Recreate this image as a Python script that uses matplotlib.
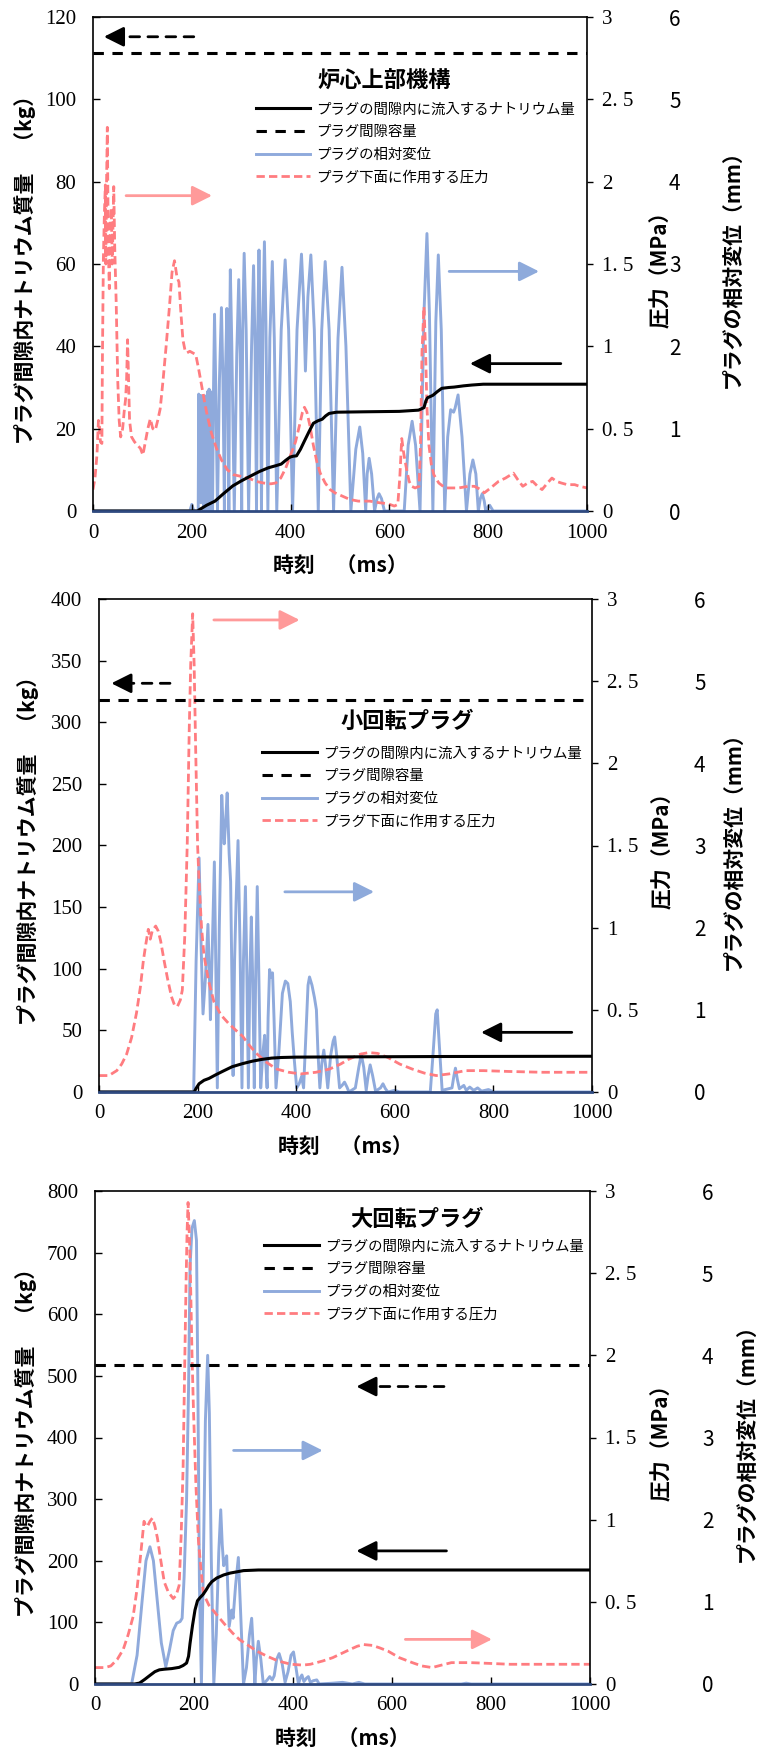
import numpy as np
import matplotlib
matplotlib.use('Agg')
import matplotlib.pyplot as plt

plt.rcParams['font.family'] = ['Noto Sans CJK JP', 'DejaVu Sans']

# ---------------- data ----------------
panel_titles = ['炉心上部機構', '小回転プラグ', '大回転プラグ']
legend_labels = ['プラグの間隙内に流入するナトリウム量', 'プラグ間隙容量',
                 'プラグの相対変位', 'プラグ下面に作用する圧力']
x_ticks = [0, 200, 400, 600, 800, 1000]
kg_max = [120, 400, 800]
kg_step = [20, 50, 100]
pres_ticks = [0, 0.5, 1, 1.5, 2, 2.5, 3]
pres_ticklabels = ['0', '0. 5', '1', '1. 5', '2', '2. 5', '3']
disp_ticks = [0, 1, 2, 3, 4, 5, 6]
capacity = [111.3, 318, 518]

# (time ms, kg)
mass1 = np.array([(0, 0), (212, 0), (215, 0.3), (230, 1.4), (247, 2.4), (265, 4.3), (283, 6.1),
                  (300, 7.3), (319, 8.5), (337, 9.6), (355, 10.5), (370, 11.0), (381, 11.4),
                  (390, 12.3), (399, 13.1), (405, 13.3), (412, 13.4), (420, 15), (428, 17),
                  (437, 19.2), (446, 21.3), (455, 21.9), (464, 22.3), (471, 23.1), (478, 23.7),
                  (493, 24.0), (550, 24.1), (620, 24.2), (659, 24.5), (670, 25.1), (674, 26.8),
                  (677, 27.5), (688, 28.1), (697, 29.0), (706, 29.8), (720, 30.0), (731, 30.1),
                  (750, 30.4), (767, 30.6), (790, 30.8), (1000, 30.8)])
mass2 = np.array([(0, 0), (193, 0), (197, 3), (203, 6.7), (213, 9.5), (223, 11), (237, 14),
                  (252, 17), (270, 20.5), (291, 23), (311, 25), (331, 26.5), (350, 27.5),
                  (370, 28), (400, 28.3), (500, 28.5), (700, 28.8), (1000, 29)])
mass3 = np.array([(0, 0), (80, 0), (90, 1.5), (101, 7.8), (111, 14), (121, 20), (130, 23),
                  (140, 24), (155, 25), (170, 27), (178, 30), (185, 34), (189, 45), (192, 66),
                  (197, 95), (202, 120), (207, 135), (212, 140), (218, 145), (224, 152),
                  (230, 160), (236, 166), (246, 172), (260, 177), (273, 180), (300, 184),
                  (330, 185), (1000, 185)])

# (time ms, MPa)
pres1 = np.array([(0, 0.13), (4, 0.2), (8, 0.34), (11, 0.55), (13, 0.52), (15, 0.42), (18, 0.41),
                  (19, 0.9), (21, 1.53), (23, 1.8), (25, 1.98), (26, 1.5), (27, 1.9), (29, 2.33),
                  (31, 1.6), (33, 1.35), (35, 1.7), (37, 1.84), (39, 1.5), (42, 1.97), (44, 1.6),
                  (47, 1.26), (50, 0.8), (53, 0.55), (56, 0.45), (60, 0.5), (63, 0.6), (66, 0.68),
                  (68, 0.8), (70, 1.04), (72, 0.8), (74, 0.55), (78, 0.45), (84, 0.42), (90, 0.4),
                  (96, 0.38), (101, 0.34), (106, 0.42), (111, 0.5), (116, 0.56), (121, 0.5),
                  (126, 0.49), (131, 0.55), (136, 0.62), (142, 0.8), (148, 1.0), (155, 1.25),
                  (160, 1.45), (165, 1.52), (170, 1.42), (174, 1.39), (178, 1.2), (182, 1.04),
                  (186, 0.98), (190, 0.96), (196, 0.97), (202, 0.96), (208, 0.95), (214, 0.86),
                  (220, 0.76), (226, 0.66), (232, 0.57), (240, 0.47), (250, 0.38), (260, 0.31),
                  (272, 0.25), (285, 0.22), (300, 0.21), (315, 0.2), (330, 0.18), (345, 0.17),
                  (360, 0.165), (370, 0.17), (380, 0.2), (390, 0.26), (400, 0.34), (410, 0.42),
                  (418, 0.52), (424, 0.6), (428, 0.63), (433, 0.6), (439, 0.52), (446, 0.4),
                  (453, 0.3), (460, 0.23), (470, 0.17), (480, 0.13), (490, 0.11), (505, 0.09),
                  (520, 0.07), (537, 0.06), (560, 0.06), (580, 0.05), (596, 0.045), (610, 0.03),
                  (617, 0.04), (621, 0.2), (625, 0.44), (629, 0.35), (635, 0.25), (640, 0.18),
                  (645, 0.15), (652, 0.14), (660, 0.15), (663, 0.4), (666, 0.97), (670, 1.24),
                  (673, 1.0), (676, 0.63), (680, 0.4), (685, 0.28), (690, 0.22), (700, 0.17),
                  (713, 0.14), (740, 0.14), (760, 0.15), (772, 0.15), (785, 0.13), (792, 0.11),
                  (805, 0.14), (821, 0.18), (835, 0.2), (851, 0.23), (860, 0.19), (870, 0.15),
                  (880, 0.17), (890, 0.18), (900, 0.15), (909, 0.13), (920, 0.17), (929, 0.2),
                  (938, 0.18), (948, 0.17), (960, 0.16), (975, 0.16), (985, 0.15), (1000, 0.14)])
pres2 = np.array([(0, 0.10), (20, 0.10), (36, 0.13), (46, 0.17), (56, 0.23), (66, 0.33),
                  (76, 0.48), (84, 0.64), (90, 0.80), (95, 0.9), (100, 0.99), (104, 0.93),
                  (108, 0.98), (115, 1.01), (120, 0.98), (125, 0.92), (132, 0.8), (139, 0.69),
                  (147, 0.58), (153, 0.53), (159, 0.52), (165, 0.56), (169, 0.62), (174, 0.95),
                  (179, 1.51), (183, 2.2), (186, 2.6), (190, 2.91), (193, 2.6), (196, 2.1),
                  (200, 1.5), (203, 1.28), (208, 1.0), (213, 0.83), (222, 0.68), (233, 0.55),
                  (247, 0.47), (262, 0.42), (276, 0.38), (291, 0.34), (306, 0.28), (321, 0.23),
                  (340, 0.18), (360, 0.14), (385, 0.12), (409, 0.11), (440, 0.12), (468, 0.14),
                  (490, 0.17), (507, 0.20), (530, 0.23), (547, 0.24), (565, 0.235), (586, 0.21),
                  (610, 0.17), (635, 0.14), (660, 0.115), (684, 0.10), (710, 0.11), (743, 0.13),
                  (780, 0.13), (831, 0.125), (900, 0.12), (1000, 0.12)])
pres3 = np.array([(0, 0.10), (20, 0.10), (32, 0.11), (45, 0.15), (57, 0.21), (67, 0.3), (77, 0.41),
                  (85, 0.58), (91, 0.75), (96, 0.9), (99, 0.99), (103, 0.96), (106, 0.96),
                  (111, 0.99), (116, 1.01), (121, 0.96), (126, 0.89), (133, 0.75), (140, 0.62),
                  (148, 0.56), (158, 0.52), (164, 0.54), (170, 0.60), (174, 0.9), (178, 1.32),
                  (181, 1.9), (184, 2.45), (186, 2.75), (188, 2.93), (191, 2.7), (193, 2.45),
                  (196, 2.0), (199, 1.66), (204, 1.2), (209, 0.87), (214, 0.7), (219, 0.55),
                  (230, 0.48), (249, 0.41), (263, 0.36), (278, 0.31), (292, 0.27), (307, 0.24),
                  (327, 0.2), (347, 0.17), (370, 0.14), (396, 0.12), (420, 0.115), (435, 0.12),
                  (460, 0.14), (480, 0.16), (494, 0.18), (515, 0.21), (530, 0.23), (543, 0.24),
                  (560, 0.235), (575, 0.22), (592, 0.20), (615, 0.16), (641, 0.13), (660, 0.11),
                  (681, 0.10), (700, 0.115), (720, 0.13), (759, 0.13), (800, 0.125), (838, 0.12),
                  (900, 0.12), (1000, 0.12)])

# (time ms, mm)
disp1 = np.array([(0, 0), (196, 0), (200, 0.08), (204, 0), (213, 0),
                  (214, 1.42), (215.5, 0.3), (217, 1.40), (218.5, 0.1), (220, 1.40), (221.5, 0.2),
                  (223, 1.38), (224.5, 0.0), (226, 1.40), (227.5, 0.3), (229, 1.35), (230.5, 0.0),
                  (232, 1.45), (233.5, 0.2), (235, 1.48), (236.5, 0.0), (238, 1.45), (240, 0.5),
                  (242, 0),
                  (244, 1.5), (246, 2.39), (248.5, 1.5), (252, 0),
                  (256, 1.6), (260, 2.47), (263, 1.6), (266, 0),
                  (268, 1.6), (271, 2.46), (273, 1.5), (275, 0),
                  (276.5, 2.0), (278, 2.93), (281, 2.0), (286, 0),
                  (291, 1.9), (295, 2.81), (298, 1.9), (301, 0),
                  (303, 2.2), (306, 3.13), (310, 2.2), (315, 0),
                  (321, 2.0), (325, 2.98), (328, 2.0), (331, 0),
                  (333.5, 2.2), (336, 3.17), (338.5, 2.2), (341, 0),
                  (344, 2.3), (347, 3.27), (350, 2.3), (354, 0),
                  (358, 2.1), (363, 3.03), (367, 2.1), (372, 0),
                  (381, 2.2), (389, 3.05), (396, 2.2), (404, 0),
                  (413, 2.2), (422, 3.12), (426, 2.6), (430, 1.70), (435, 2.6), (441, 3.11),
                  (448, 2.2), (456, 0),
                  (463, 2.2), (470, 3.03), (478, 2.2), (487, 0),
                  (496, 2.1), (504, 2.96), (512, 2.0), (522, 0),
                  (532, 0.75), (540, 1.02), (546, 0.7), (552, 0),
                  (555, 0.45), (559, 0.64), (564, 0.45), (570, 0),
                  (575, 0.15), (579, 0.21), (584, 0.15), (590, 0), (630, 0),
                  (638, 0.8), (646, 1.09), (653, 0.8), (662, 0),
                  (670, 2.4), (676, 3.37), (681, 2.4), (688, 0),
                  (694, 2.3), (699, 3.11), (705, 2.2), (712, 0),
                  (718, 0.9), (724, 1.23), (730, 1.2), (733, 1.25), (739, 1.41), (747, 0.9), (756, 0),
                  (763, 0.45), (769, 0.62), (775, 0.45), (780, 0),
                  (784, 0.15), (788, 0.21), (792, 0.12), (795, 0),
                  (800, 0.05), (803, 0.07), (806, 0.04), (810, 0), (1000, 0)])
disp2 = np.array([(0, 0), (192, 0), (197, 1.6), (203, 2.85), (207, 1.8), (211, 0.95), (216, 1.4),
                  (221, 2.04), (224, 1.4), (226, 0.88), (230, 1.8), (234, 2.80), (237, 1.5),
                  (240, 0.05), (244, 2.0), (249, 3.61), (252, 3.2), (254, 3.02), (257, 3.3),
                  (260, 3.64), (264, 2.9), (267, 2.56), (270, 1.2), (272, 0.2),
                  (275, 1.6), (278, 2.3), (282, 3.06), (286, 1.8), (290, 0.05),
                  (293, 1.6), (297, 2.50), (300, 1.4), (303, 0.05),
                  (306, 1.4), (309, 2.13), (312, 1.3), (315, 0.05),
                  (318, 1.5), (321, 2.50), (324, 1.5), (328, 0.05),
                  (332, 0.45), (336, 0.69), (338, 0.4), (341, 0.05),
                  (343, 0.9), (346, 1.49), (349, 1.40), (352, 1.45), (355, 0.9), (359, 0.05),
                  (365, 0.5), (372, 1.2), (378, 1.35), (383, 1.32), (388, 1.1), (392, 0.72),
                  (396, 0.4), (401, 0.05), (406, 0.1), (411, 0.19), (415, 0.05),
                  (419, 0.6), (424, 1.3), (427, 1.40), (432, 1.3), (437, 1.15), (441, 1.0),
                  (444, 0.5), (448, 0.05), (452, 0.35), (456, 0.51), (460, 0.3), (464, 0.05),
                  (470, 0.45), (475, 0.62), (478, 0.67), (482, 0.45), (488, 0.05),
                  (493, 0.08), (498, 0.12), (503, 0.06), (507, 0.0),
                  (520, 0.05), (527, 0.3), (532, 0.46), (537, 0.3), (542, 0.02),
                  (546, 0.2), (550, 0.33), (555, 0.2), (561, 0.01),
                  (571, 0.05), (576, 0.10), (581, 0.04), (586, 0.0), (600, 0.02), (610, 0.0),
                  (672, 0), (678, 0.5), (683, 0.95), (686, 1.0), (690, 0.6), (696, 0.02),
                  (716, 0.05), (720, 0.2), (723, 0.29), (727, 0.15), (731, 0.04), (740, 0.08),
                  (745, 0.02), (752, 0.06), (760, 0.02), (768, 0.05), (776, 0.01), (790, 0.03),
                  (800, 0.0), (1000, 0)])
disp3 = np.array([(0, 0), (74, 0), (85, 0.35), (95, 1.0), (103, 1.5), (111, 1.67), (118, 1.5),
                  (126, 1.0), (134, 0.5), (143, 0.21), (150, 0.4), (158, 0.65), (165, 0.74),
                  (172, 0.76), (176, 0.8), (180, 1.3), (185, 2.24), (189, 3.6), (192, 5.08),
                  (196, 5.55), (200.7, 5.64), (205, 5.4), (208, 3.5), (211, 1.2), (215, 0.0),
                  (219, 1.5), (223, 3.2), (227.6, 4.0), (231, 3.3), (235, 1.5), (240, 0.0),
                  (245, 0.6), (250, 1.6), (254, 2.12), (257, 1.7), (260, 1.44), (263, 1.5),
                  (266, 1.56), (268, 1.2), (271, 0.7), (276, 0.90), (279, 0.80), (284, 1.2),
                  (289.6, 1.54), (294, 0.9), (300, 0.0),
                  (306, 0.2), (312, 0.6), (316.5, 0.80), (320, 0.4), (323, 0.0),
                  (326, 0.3), (330, 0.52), (335, 0.3), (340, 0.0),
                  (348, 0.05), (353, 0.09), (358, 0.05), (362, 0.1), (367, 0.3), (372, 0.37),
                  (378, 0.25), (384, 0.02), (390, 0.15), (396, 0.35), (401, 0.39), (406, 0.2),
                  (411, 0.0), (415, 0.08), (418, 0.11), (422, 0.03), (427, 0.07), (431, 0.09),
                  (435, 0.02), (441, 0.04), (448, 0.05), (453, 0.0), (480, 0.01), (500, 0.02),
                  (520, 0.0), (533, 0.02), (545, 0.0), (740, 0.0), (750, 0.01), (760, 0),
                  (1000, 0)])

masses = [mass1, mass2, mass3]
pressures = [pres1, pres2, pres3]
disps = [disp1, disp2, disp3]

# ---------------- layout / style ----------------
W, H = 760, 1754
rects_px = [(93, 17, 587, 511), (99, 599, 592, 1092), (95, 1191, 590, 1684)]
left_label_x = [-0.115, -0.122, -0.117]
pres_label_x = [1.128, 1.122, 1.123]
disp_label_x = [1.273, 1.264, 1.295]
disp_spine_x = [1.152, 1.193, 1.212]
title_pos = [(0.590, 0.870), (0.625, 0.751), (0.651, 0.943)]
legend_pos = [(0.329, 0.827), (0.331, 0.701), (0.342, 0.902)]
arrows = [
    [((204, 115.2), (22, 115.2), 'k', '--'), ((67, 76.6), (241, 76.6), '#FF9A9A', '-'),
     ((721, 58.2), (903, 58.2), '#8EAADB', '-'), ((947, 35.8), (763, 35.8), 'k', '-')],
    [((144, 331.6), (25, 331.6), 'k', '--'), ((233, 383), (407, 383), '#FF9A9A', '-'),
     ((377, 162.4), (558, 162.4), '#8EAADB', '-'), ((959, 48.4), (775, 48.4), 'k', '-')],
    [((705, 482.7), (528, 482.7), 'k', '--'), ((280, 379), (460, 379), '#8EAADB', '-'),
     ((710, 216), (528, 216), 'k', '-'), ((627, 72.4), (802, 72.4), '#FF9A9A', '-')],
]

BLUE = '#8FAADC'
PINK = '#FF7C80'
NAVY = '#2F4A80'
SERIF = 'Liberation Serif'
TICK_FS = 15

fig = plt.figure(figsize=(W / 100, H / 100), dpi=100)

for i in range(3):
    x0, y0, x1, y1 = rects_px[i]
    rect = [x0 / W, 1 - y1 / H, (x1 - x0) / W, (y1 - y0) / H]
    ax = fig.add_axes(rect)
    ax_p = ax.twinx()
    ax_d = ax.twinx()
    ax_d.set_zorder(1)
    ax_p.set_zorder(2)
    ax.set_zorder(3)
    ax.patch.set_visible(False)
    ax_p.patch.set_visible(False)
    ax_d.patch.set_visible(True)
    ax_d.patch.set_facecolor('white')

    # series
    d = disps[i]
    l_disp, = ax_d.plot(d[:, 0], d[:, 1], color=BLUE, lw=2.1, solid_joinstyle='round')
    p = pressures[i]
    l_pres, = ax_p.plot(p[:, 0], p[:, 1], color=PINK, lw=2.0, dashes=(3.0, 1.5))
    m = masses[i]
    l_mass, = ax.plot(m[:, 0], m[:, 1], color='black', lw=2.2)
    l_cap = ax.axhline(capacity[i], color='black', lw=2.2, dashes=(3.4, 2.8))

    # axes limits and ticks
    ax.set_xlim(0, 1000)
    ax.set_ylim(0, kg_max[i])
    ax_p.set_ylim(0, 3)
    ax_d.set_ylim(0, 6)
    ax.set_xticks(x_ticks)
    ax.set_xticklabels([str(v) for v in x_ticks])
    kt = list(range(0, kg_max[i] + 1, kg_step[i]))
    ax.set_yticks(kt)
    ax.set_yticklabels([str(v) for v in kt])
    ax_p.set_yticks(pres_ticks)
    ax_p.set_yticklabels(pres_ticklabels)
    ax_d.set_yticks(disp_ticks)
    ax_d.set_yticklabels([str(v) for v in disp_ticks])

    ax.tick_params(axis='x', direction='in', length=5, width=1.0, pad=9, labelsize=TICK_FS)
    ax.tick_params(axis='y', direction='in', length=5, width=1.0, pad=12, labelsize=TICK_FS,
                   right=False, labelright=False)
    ax_p.tick_params(axis='y', direction='out', length=4, width=1.0, pad=7, labelsize=TICK_FS)
    ax_d.tick_params(axis='y', length=0, pad=5, labelsize=TICK_FS)
    for a in (ax, ax_p, ax_d):
        for lab in a.get_xticklabels() + a.get_yticklabels():
            lab.set_fontfamily(SERIF)

    for s in ax.spines.values():
        s.set_linewidth(1.2)
        s.set_color('black')
    ax.spines['bottom'].set_color(NAVY)
    ax.spines['bottom'].set_linewidth(2.0)
    for s in ax_p.spines.values():
        s.set_visible(False)
    for s in ax_d.spines.values():
        s.set_visible(False)
    ax_d.spines['right'].set_position(('axes', disp_spine_x[i]))
    ax_p.xaxis.set_visible(False)
    ax_d.xaxis.set_visible(False)

    # labels
    ax.set_xlabel('時刻　（ms）', fontsize=15, fontweight='bold')
    ax.xaxis.set_label_coords(0.5, -0.089)
    ax.set_ylabel('プラグ間隙内ナトリウム質量　（kg）', fontsize=15, fontweight='bold')
    ax.yaxis.set_label_coords(left_label_x[i], 0.5)
    ax_p.set_ylabel('圧力（MPa）', fontsize=15, fontweight='bold')
    ax_p.yaxis.set_label_coords(pres_label_x[i], 0.5)
    ax_d.set_ylabel('プラグの相対変位（mm）', fontsize=15, fontweight='bold')
    ax_d.yaxis.set_label_coords(disp_label_x[i], 0.5)

    # title + legend
    ax.text(title_pos[i][0], title_pos[i][1], panel_titles[i], transform=ax.transAxes,
            ha='center', va='center', fontsize=16, fontweight='bold')
    ax.legend([l_mass, l_cap, l_disp, l_pres], legend_labels, loc='upper left',
              bbox_to_anchor=legend_pos[i], bbox_transform=ax.transAxes, frameon=False,
              borderpad=0, borderaxespad=0, handlelength=3.8, handletextpad=0.4,
              labelspacing=0.6, prop={'size': 10.4})

    # annotation arrows
    for tail, head, col, ls in arrows[i]:
        if ls == '--':
            ax.annotate('', xy=head, xytext=tail,
                        arrowprops=dict(arrowstyle='-', color=col, lw=2.0,
                                        linestyle=(0, (3.5, 3.0)), shrinkA=0, shrinkB=8))
            ax.annotate('', xy=head, xytext=(head[0] + (tail[0] - head[0]) * 0.12, head[1]),
                        arrowprops=dict(arrowstyle='-|>,head_length=0.6,head_width=0.3',
                                        mutation_scale=20, color=col, lw=2.0,
                                        shrinkA=0, shrinkB=0))
        else:
            ax.annotate('', xy=head, xytext=tail,
                        arrowprops=dict(arrowstyle='-|>,head_length=0.6,head_width=0.3',
                                        mutation_scale=20, color=col, lw=2.0,
                                        shrinkA=0, shrinkB=0))

fig.savefig('out.png', dpi=100, facecolor='white')
